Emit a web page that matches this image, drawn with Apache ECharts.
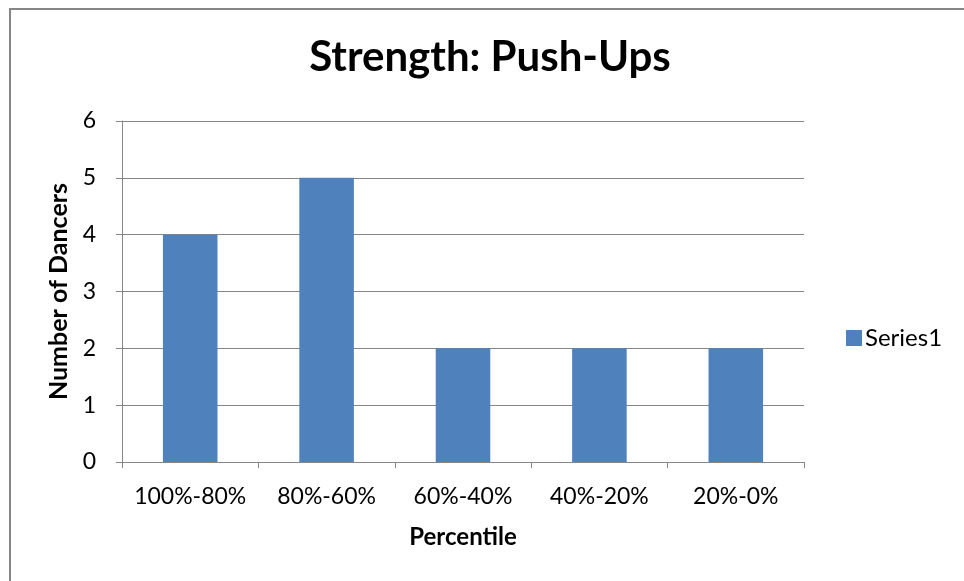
<!DOCTYPE html>
<html>
<head>
<meta charset="utf-8">
<script src="https://cdn.jsdelivr.net/npm/echarts@6/dist/echarts.min.js"></script>
<style>
  html, body { margin: 0; padding: 0; background: #fff; overflow: hidden; }
  #frame { position: absolute; left: 9px; top: 8px; width: 970px; height: 590px; border: 2px solid #868686; box-sizing: border-box; }
  #chart { width: 964px; height: 581px; position: absolute; left: 0; top: 0; }
</style>
</head>
<body>
<div id="frame"></div>
<div id="chart"></div>
<script>
// Push-up strength results grouped by percentile band
const categories = ['100%-80%', '80%-60%', '60%-40%', '40%-20%', '20%-0%'];
const dancerCounts = [4, 5, 2, 2, 2];
const yTicks = { min: 0, max: 6, interval: 1 };

const FONT = 'Lato, "Open Sans", sans-serif';
const chart = echarts.init(document.getElementById('chart'), null, { renderer: 'canvas' });

chart.setOption({
  animation: false,
  title: {
    text: 'Strength: Push-Ups',
    left: 490, top: 36, textAlign: 'center', padding: 0,
    textStyle: { fontFamily: FONT, fontWeight: 'bold', fontSize: 42, color: '#000' }
  },
  legend: {
    data: ['Series1'],
    left: 846, top: 326, padding: 0,
    itemWidth: 16, itemHeight: 16, itemGap: 6,
    icon: 'rect',
    textStyle: { fontFamily: FONT, fontSize: 24, color: '#000', padding: [0, 0, 0, -2] }
  },
  grid: { left: 122, right: 160, top: 121, bottom: 119, containLabel: false },
  xAxis: {
    type: 'category',
    data: categories,
    name: 'Percentile',
    nameLocation: 'middle',
    nameGap: 63,
    nameTextStyle: { fontFamily: FONT, fontWeight: 'bold', fontSize: 24, color: '#000' },
    axisLine: { lineStyle: { color: '#868686', width: 1 } },
    axisTick: { show: true, length: 6, lineStyle: { color: '#868686' } },
    axisLabel: { interval: 0, hideOverlap: false, fontFamily: FONT, fontSize: 23, color: '#000', margin: 23 }
  },
  yAxis: {
    type: 'value',
    min: yTicks.min, max: yTicks.max, interval: yTicks.interval,
    name: 'Number of Dancers',
    nameLocation: 'middle',
    nameGap: 50,
    nameRotate: 90,
    nameTextStyle: { fontFamily: FONT, fontWeight: 'bold', fontSize: 25, color: '#000' },
    axisLine: { show: true, lineStyle: { color: '#868686', width: 1 } },
    axisTick: { show: true, length: 6, lineStyle: { color: '#868686' } },
    axisLabel: { fontFamily: FONT, fontSize: 23, color: '#000', margin: 26 },
    splitLine: { show: true, lineStyle: { color: '#868686', width: 1 } }
  },
  series: [{
    name: 'Series1',
    type: 'bar',
    data: dancerCounts,
    barWidth: '40%',
    itemStyle: { color: '#4F81BD' }
  }]
});
</script>
</body>
</html>
